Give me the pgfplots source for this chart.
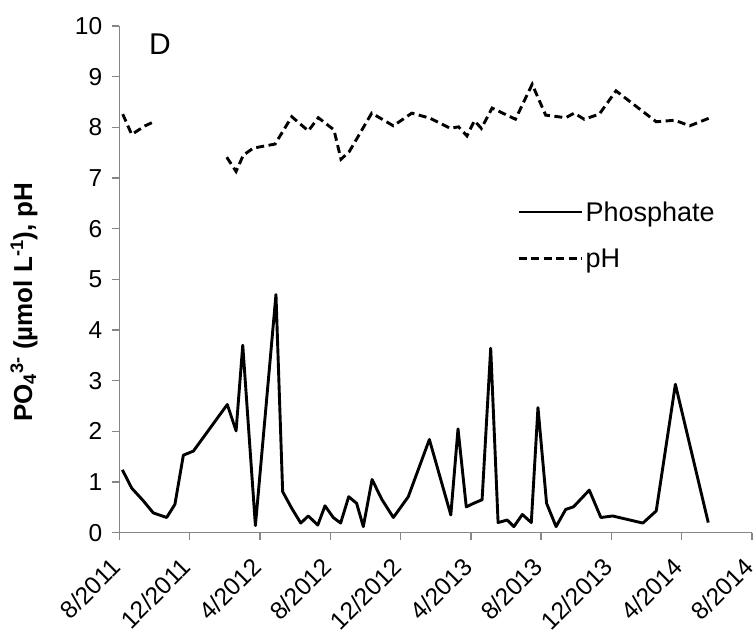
\documentclass[border=0pt]{standalone}
\usepackage{fontspec}
\setmainfont{Liberation Sans}
\usepackage{pgfplots}
\pgfplotsset{compat=1.18}
\usepackage{pgfplotstable}
\pgfplotstableread{
m v
0.17 1.24
0.70 0.88
1.36 0.63
1.93 0.39
2.69 0.30
3.16 0.56
3.64 1.53
4.21 1.61
6.14 2.53
6.64 2.01
7.02 3.70
7.74 0.14
8.91 4.70
9.29 0.81
9.81 0.48
10.32 0.19
10.75 0.33
11.29 0.15
11.70 0.53
12.17 0.30
12.59 0.19
13.05 0.71
13.50 0.58
13.88 0.12
14.38 1.05
14.93 0.66
15.59 0.30
16.44 0.71
17.64 1.84
18.86 0.35
19.27 2.05
19.74 0.51
20.16 0.58
20.64 0.65
21.13 3.64
21.55 0.20
22.07 0.25
22.45 0.12
22.93 0.36
23.44 0.20
23.82 2.47
24.31 0.58
24.85 0.12
25.40 0.46
25.84 0.51
26.74 0.84
27.40 0.30
28.07 0.33
29.79 0.19
30.55 0.43
31.64 2.93
33.51 0.20
}\phosphate
\pgfplotstableread{
m v
0.19 8.26
0.70 7.86
1.46 8.03
2.03 8.12
4.00 nan
6.11 7.41
6.64 7.13
7.05 7.45
7.62 7.59
8.86 7.67
9.81 8.21
10.75 7.93
11.32 8.19
12.21 7.95
12.61 7.37
13.08 7.52
14.36 8.28
15.59 8.03
16.64 8.28
17.68 8.18
18.83 7.98
19.30 8.01
19.78 7.83
20.20 8.13
20.60 7.98
21.21 8.38
22.54 8.16
23.49 8.85
24.26 8.24
25.40 8.19
25.88 8.28
26.45 8.16
27.31 8.26
28.26 8.72
30.55 8.11
31.60 8.14
32.46 8.03
33.55 8.18
}\phdata
\definecolor{axgray}{RGB}{134,134,134}
\begin{document}
\begin{tikzpicture}
\useasboundingbox (-119.4bp,-108.3bp) rectangle (635.6bp,532.7bp);
\begin{axis}[
  at={(0,0)}, anchor=south west,
  scale only axis,
  width=632.6bp, height=506.7bp,
  xmin=0, xmax=36, ymin=0, ymax=10,
  axis lines=left,
  axis line style={-, axgray, line width=1.5bp},
  tick style={axgray, line width=1.5bp},
  tick align=outside,
  major tick length=7bp,
  xtick={0,4,...,36},
  xticklabels={8/2011,12/2011,4/2012,8/2012,12/2012,4/2013,8/2013,12/2013,4/2014,8/2014},
  ytick={0,1,...,10},
  /pgf/number format/assume math mode=true,
  tick label style={font=\fontsize{24.5bp}{29bp}\selectfont},
  xticklabel style={yshift=-29bp, xshift=3bp, rotate=45, anchor=base east, inner sep=0pt},
  yticklabel style={inner sep=0pt, xshift=-10bp},
  ylabel={\bfseries PO\textsubscript{4}\textsuperscript{3-} (µmol L\textsuperscript{-1}), pH},
  ylabel style={font=\fontsize{26bp}{31bp}\selectfont, at={(axis description cs:-0.151,0.455)}, anchor=center, rotate=0},
  unbounded coords=jump,
  legend style={draw=none, fill=none, at={(axis description cs:0.6285,0.659)}, anchor=north west,
    font=\fontsize{27bp}{32bp}\selectfont, row sep=21bp, inner sep=0pt,
    nodes={inner sep=2.5bp}},
  legend cell align=left,
  legend image code/.code={\draw[#1] (0bp,0bp) -- (63bp,0bp);},
  clip=false,
]
\addplot[black, line width=2.9bp, line join=round] table[x=m, y=v] {\phosphate};
\addlegendentry{Phosphate}
\addplot[black, line width=2.9bp, dash pattern=on 8bp off 4.5bp] table[x=m, y=v] {\phdata};
\addlegendentry{pH}
\node[font=\fontsize{30bp}{36bp}\selectfont] at (axis cs:2.31,9.64) {D};
\end{axis}
\end{tikzpicture}
\end{document}
